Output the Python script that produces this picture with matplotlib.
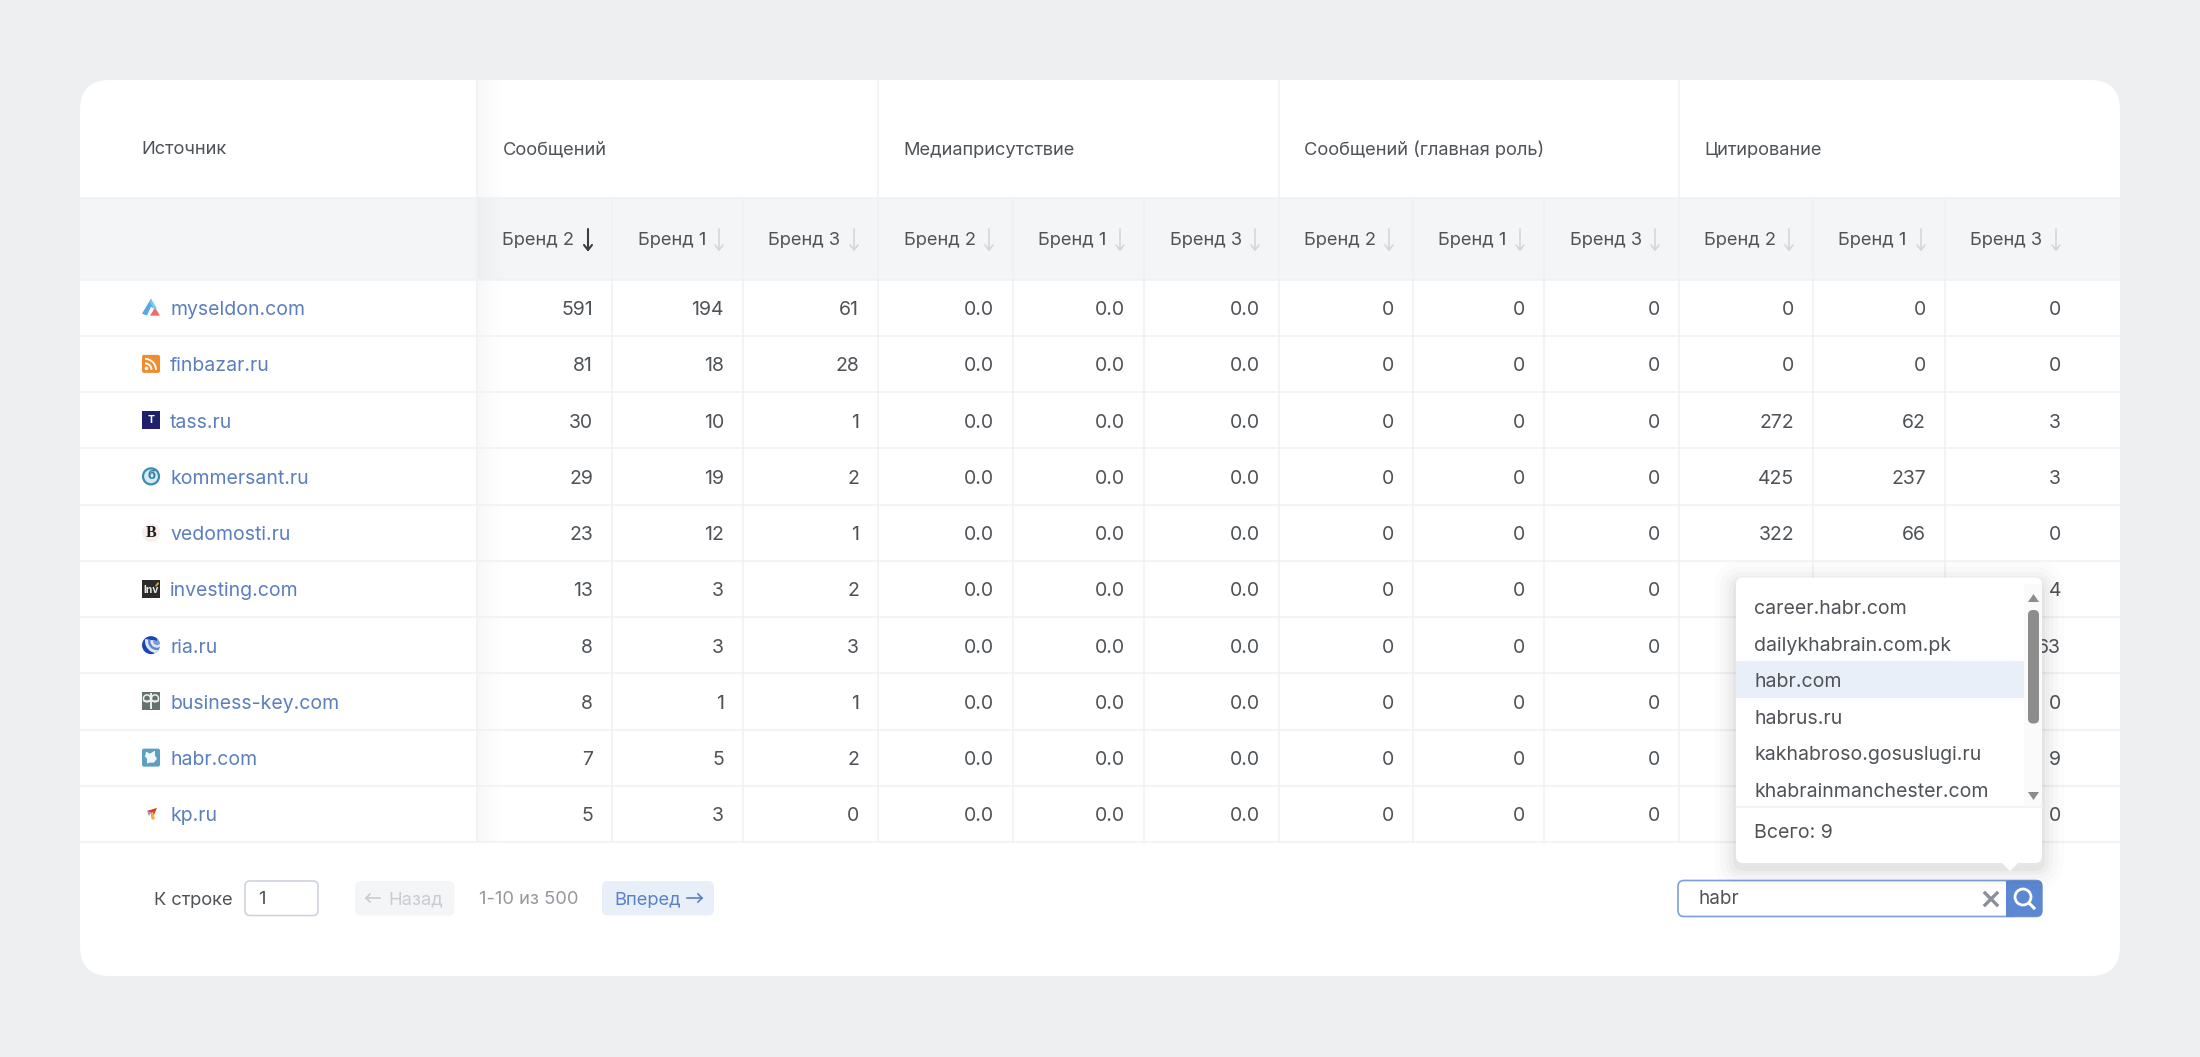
"""Source table with brand columns, search dropdown and pager."""
import matplotlib
matplotlib.use("Agg")
import matplotlib.pyplot as plt
import numpy as np
from matplotlib.patches import Circle, FancyBboxPatch, Polygon, Rectangle, Wedge, Arc

plt.rcParams["font.family"] = ["Inter", "DejaVu Sans"]

# ----- data -----
SOURCES = ["myseldon.com", "finbazar.ru", "tass.ru", "kommersant.ru", "vedomosti.ru",
           "investing.com", "ria.ru", "business-key.com", "habr.com", "kp.ru"]
GROUPS = ["Сообщений", "Медиаприсутствие", "Сообщений (главная роль)", "Цитирование"]
BRANDS = ["Бренд 2", "Бренд 1", "Бренд 3"]

msg_b2 = [591, 81, 30, 29, 23, 13, 8, 8, 7, 5]
msg_b1 = [194, 18, 10, 19, 12, 3, 3, 1, 5, 3]
msg_b3 = [61, 28, 1, 2, 1, 2, 3, 1, 2, 0]
media_b2 = ["0.0"] * 10
media_b1 = ["0.0"] * 10
media_b3 = ["0.0"] * 10
role_b2 = [0] * 10
role_b1 = [0] * 10
role_b3 = [0] * 10
# the last five rows of these two are under the dropdown
cite_b2 = [0, 0, 272, 425, 322, None, None, None, None, None]
cite_b1 = [0, 0, 62, 237, 66, None, None, None, None, None]
cite_b3 = [0, 0, 3, 3, 0, 4, 63, 0, 9, 0]
COLUMNS = [msg_b2, msg_b1, msg_b3, media_b2, media_b1, media_b3,
           role_b2, role_b1, role_b3, cite_b2, cite_b1, cite_b3]

SUGGESTIONS = ["career.habr.com", "dailykhabrain.com.pk", "habr.com", "habrus.ru",
               "kakhabroso.gosuslugi.ru", "khabrainmanchester.com"]

# ----- layout (pixels) -----
COL_EDGES = [477, 612, 743, 878, 1013, 1144, 1279, 1413, 1544, 1679, 1813, 1945, 2080]
GROUP_EDGES = [477, 878, 1279, 1679]
CARD = (80, 80, 2120, 976)
HEAD_Y, SUB_Y = 198, 279.5
ROW_H = 56.25

BG = "#eeeff1"
LINE = "#f0f1f3"
BAND = "#f4f5f7"
TEXT = "#4f5358"
LINK = "#5b7fbe"
BLUE = "#5c87d2"
BODY = 14
HEAD = 13.15
SMALL = 13.2
DROP = 14.05

fig = plt.figure(figsize=(22, 10.57), dpi=100, facecolor=BG)
ax = fig.add_axes([0, 0, 1, 1])
ax.axis("off")


def box(x0, y0, x1, y1, r=6, fc="white", ec="none", lw=1, z=1, alpha=None):
    p = FancyBboxPatch((x0, y0), x1 - x0, y1 - y0, boxstyle=f"round,pad=0,rounding_size={r}",
                       fc=fc, ec=ec, lw=lw, zorder=z, alpha=alpha)
    ax.add_patch(p)
    return p


def arrow(x, y0, y1, color, lw=1.3, z=3):
    ax.plot([x, x], [y0, y1], color=color, lw=lw, zorder=z, solid_capstyle="round")
    ax.plot([x - 4, x, x + 4], [y1 - 5, y1, y1 - 5], color=color, lw=lw, zorder=z,
            solid_capstyle="round")


def h_arrow(x0, x1, y, color, lw=1.2, z=3):
    ax.plot([x0, x1], [y, y], color=color, lw=lw, zorder=z)
    tip = 1 if x1 > x0 else -1
    ax.plot([x1 - 4 * tip, x1, x1 - 4 * tip], [y - 4, y, y + 4], color=color, lw=lw, zorder=z)


# ----- card -----
box(CARD[0], CARD[1], CARD[2], CARD[3], r=30, z=1)
ax.add_patch(Rectangle((CARD[0], HEAD_Y), CARD[2] - CARD[0], SUB_Y - HEAD_Y, fc=BAND, ec="none", zorder=1.1))

n_rows = len(SOURCES)
table_bottom = SUB_Y + n_rows * ROW_H

# shadow of the frozen first column
grad = np.zeros((1, 32, 4))
grad[..., 3] = np.linspace(0.055, 0, 32) ** 1.2
ax.imshow(grad, extent=(477, 509, table_bottom, CARD[1]), aspect="auto", zorder=1.2,
          interpolation="bilinear")

for i in range(n_rows + 1):
    y = SUB_Y + i * ROW_H
    ax.plot([CARD[0], CARD[2]], [y, y], color=LINE, lw=1.1, zorder=1.3)
ax.plot([CARD[0], CARD[2]], [HEAD_Y, HEAD_Y], color=LINE, lw=1.1, zorder=1.3)

for x in COL_EDGES[:-1]:
    ax.plot([x, x], [HEAD_Y, table_bottom], color=LINE, lw=1.1, zorder=1.3)
for x in GROUP_EDGES:
    ax.plot([x, x], [CARD[1], HEAD_Y], color=LINE, lw=1.1, zorder=1.3)

# ----- headers -----
ax.text(141.5, 150, "Источник", fontsize=HEAD, color=TEXT, va="center", zorder=2)
for x, name in zip(GROUP_EDGES, GROUPS):
    ax.text(x + 25.5, 150, name, fontsize=HEAD, color=TEXT, va="center", zorder=2)

for j in range(12):
    left, right = COL_EDGES[j], COL_EDGES[j + 1]
    ax.text(left + 25.5, 245.5, BRANDS[j % 3], fontsize=HEAD, color=TEXT, va="baseline", zorder=2)
    arrow(right - 24, 229, 250, "#3a3d42" if j == 0 else "#d3d6db", lw=1.5 if j == 0 else 1.2)

# ----- body -----
for i, src in enumerate(SOURCES):
    base = SUB_Y + (i + 0.5) * ROW_H + 7.5
    ax.text(170, base, src, fontsize=BODY, color=LINK, va="baseline", zorder=2)
    for j, col in enumerate(COLUMNS):
        val = col[i]
        if val is None:
            continue
        ax.text(COL_EDGES[j + 1] - 19, base, str(val), fontsize=BODY, color=TEXT, ha="right",
                va="baseline", zorder=2)

# ----- favicons -----
cx = 151
ys = [SUB_Y + (i + 0.5) * ROW_H for i in range(n_rows)]

# myseldon
y = ys[0]
ax.add_patch(Polygon([(151, y - 9), (142, y + 6), (147, y + 8), (151, y - 1), (154, y + 1)], fc="#54a9ec", ec="none", zorder=3))
ax.add_patch(Polygon([(155, y + 0), (160, y + 8), (150, y + 8)], fc="#ef6a6a", ec="none", zorder=3))
ax.add_patch(Polygon([(151, y - 9), (157, y + 1), (154, y + 1), (150, y - 5)], fc="#7fc4f2", ec="none", zorder=3))
# finbazar
y = ys[1]
box(142, y - 9, 160, y + 9, r=2, fc="#f38a2c", z=3)
ax.add_patch(Circle((146.5, y + 4.5), 1.8, fc="white", ec="none", zorder=4))
ax.add_patch(Arc((145, y + 6), 13, 13, theta1=270, theta2=360, ec="white", lw=1.4, zorder=4))
ax.add_patch(Arc((145, y + 6), 22, 22, theta1=270, theta2=360, ec="white", lw=1.4, zorder=4))
# tass
y = ys[2]
ax.add_patch(Rectangle((142, y - 9), 18, 18, fc="#201f6e", ec="none", zorder=3))
ax.text(cx, y + 0.3, "T", fontsize=7.5, color="white", ha="center", va="center", fontweight="bold", zorder=4)
# kommersant
y = ys[3]
ax.add_patch(Circle((cx, y), 8, fc="#d6eaf1", ec="#3b8db0", lw=1.6, zorder=3))
ax.text(cx, y, "б", fontsize=9.5, color="#2f7fa3", ha="center", va="center", fontweight="bold", zorder=4)
# vedomosti
y = ys[4]
ax.add_patch(Circle((cx, y), 9, fc="#f8efec", ec="none", zorder=3))
ax.text(cx, y, "B", fontsize=11.5, color="#1c1c1c", ha="center", va="center", family="Liberation Serif", fontweight="bold", zorder=4)
# investing
y = ys[5]
ax.add_patch(Rectangle((142, y - 9), 18, 18, fc="#2b2b2b", ec="none", zorder=3))
ax.text(cx, y + 1, "Inv", fontsize=7.4, color="#e8e8e8", ha="center", va="center", fontweight="bold", zorder=4)
ax.add_patch(Polygon([(155, y - 3), (158, y - 7), (159, y - 5), (156, y - 2)], fc="#e8a33a", ec="none", zorder=4))
# ria
y = ys[6]
disc = Circle((cx, y), 9, fc="#1a45b8", ec="none", zorder=3)
ax.add_patch(disc)
for rad, col, z in [(12, "#dfe8f6", 4), (9, "#5f85d4", 4.1), (6.5, "#e4ecf8", 4.2), (4, "#7d9bdc", 4.3)]:
    w = Wedge((cx + 6, y - 4), rad, -70, 190, fc=col, ec="none", zorder=z)
    ax.add_patch(w)
    w.set_clip_path(disc)
# business-key
y = ys[7]
ax.add_patch(Rectangle((142, y - 9), 18, 18, fc="#64736f", ec="none", zorder=3))
ax.add_patch(Arc((147, y - 3), 7, 7, theta1=0, theta2=360, ec="#eef1f0", lw=1.1, zorder=4))
ax.add_patch(Arc((155, y - 3), 7, 7, theta1=0, theta2=360, ec="#eef1f0", lw=1.1, zorder=4))
ax.plot([cx, cx], [y - 7, y + 7], color="#eef1f0", lw=1.4, zorder=4)
ax.plot([144, 158], [y, y], color="#eef1f0", lw=1.1, zorder=4)
# habr
y = ys[8]
box(142, y - 9, 160, y + 9, r=2, fc="#5d9fc0", z=3)
ax.add_patch(Polygon([(146, y - 6), (150, y - 4), (155, y - 7), (155, y - 2), (157, y + 1), (154, y + 5),
                      (150, y + 5), (147, y + 6), (147, y + 1), (145, y - 1)], fc="#f2f7fa", ec="none", zorder=4))
# kp
y = ys[9]
ax.add_patch(Polygon([(157, y - 6), (147, y - 3), (151, y - 1), (152, y + 6)], fc="#d9402b", ec="none", zorder=3))
ax.add_patch(Polygon([(151, y - 1), (153, y - 2), (155, y + 5), (152, y + 6)], fc="#f3b53c", ec="none", zorder=3.1))
ax.add_patch(Polygon([(147, y - 3), (151, y - 1), (149, y + 2)], fc="#8a93c9", ec="none", zorder=3.1))

# ----- pager -----
ax.text(154.5, 904.5, "К строке", fontsize=SMALL, color=TEXT, va="baseline", zorder=2)
box(245, 881, 318, 915.5, r=5, fc="white", ec="#cdd3de", lw=1.2, z=2)
ax.text(258, 904.5, "1", fontsize=SMALL, color=TEXT, va="baseline", zorder=3)
box(355, 881, 454.5, 915.5, r=6, fc=BAND, z=2)
h_arrow(380, 366, 898, "#c9ccd2")
ax.text(388.5, 904.5, "Назад", fontsize=SMALL, color="#c9ccd2", va="baseline", zorder=3)
ax.text(479, 904.5, "1-10 из 500", fontsize=SMALL, color="#94989f", va="baseline", zorder=2)
box(602, 881, 714, 915.5, r=6, fc="#e9eff9", z=2)
ax.text(614, 904.5, "Вперед", fontsize=SMALL, color="#5b80c4", va="baseline", zorder=3)
h_arrow(687, 702, 898, "#5b80c4")

# ----- search field -----
box(1678, 880.5, 2042, 916.5, r=6, fc="white", ec="#7d9ed8", lw=1.2, z=2)
box(2006, 880.5, 2042, 916.5, r=5, fc=BLUE, z=2.1)
ax.add_patch(Rectangle((2006, 880.5), 8, 36, fc=BLUE, ec="none", zorder=2.2))
ax.add_patch(Circle((2023, 897), 8, fc="none", ec="white", lw=2, zorder=3))
ax.plot([2029, 2034], [903, 908], color="white", lw=2.2, zorder=3)
ax.plot([1985, 1997], [893, 905], color="#8a8f98", lw=2.4, zorder=3)
ax.plot([1985, 1997], [905, 893], color="#8a8f98", lw=2.4, zorder=3)
ax.text(1698, 904.5, "habr", fontsize=13.6, color=TEXT, va="baseline", zorder=3)

# ----- dropdown -----
for grow, a in [(22, 0.012), (16, 0.016), (11, 0.02), (7, 0.025), (3, 0.03)]:
    box(1736 - grow, 578 - grow + 5, 2042 + grow, 863 + grow + 5, r=8 + grow, fc="black", z=5, alpha=a)
box(1736, 577.5, 2042, 863, r=7, fc="white", z=5.5)
ax.add_patch(Polygon([(2001, 862), (2019, 862), (2010, 871)], fc="white", ec="none", zorder=5.6))
ax.add_patch(Rectangle((2024, 584), 18, 222, fc="#fafafa", ec="none", zorder=5.6))
ax.add_patch(Rectangle((1736, 661), 288, 37, fc="#e9eff8", ec="none", zorder=5.7))
for i, name in enumerate(SUGGESTIONS):
    ax.text(1754, 607.5 + i * 36.6 + 6.5, name, fontsize=DROP, color=TEXT, va="baseline", zorder=6)
ax.plot([1736, 2042], [807, 807], color=LINE, lw=1.1, zorder=6)
ax.text(1754, 837.5, "Всего: 9", fontsize=DROP, color=TEXT, va="baseline", zorder=6)
box(2028, 610, 2039, 723.5, r=5, fc="#8c8c8c", z=6)
ax.add_patch(Polygon([(2028, 602), (2039, 602), (2033.5, 594)], fc="#8c8c8c", ec="none", zorder=6))
ax.add_patch(Polygon([(2028, 792), (2039, 792), (2033.5, 800)], fc="#8c8c8c", ec="none", zorder=6))

ax.set_xlim(0, 2200)
ax.set_ylim(1057, 0)
fig.savefig("out.png", dpi=100, facecolor=BG)
